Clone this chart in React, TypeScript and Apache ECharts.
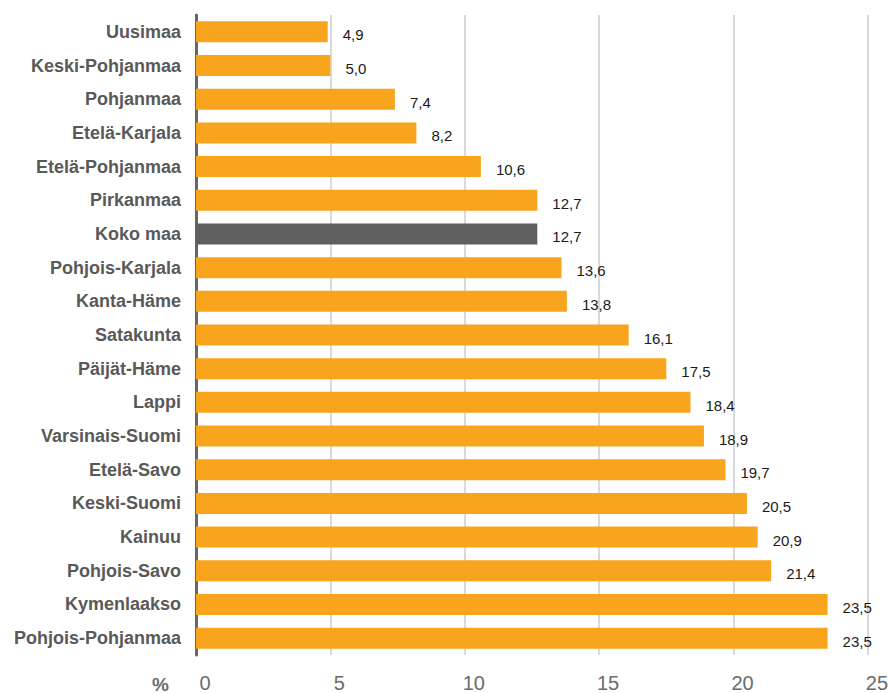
import React, { useEffect, useRef } from "react";
import * as echarts from "echarts";

const categories = [
  "Uusimaa",
  "Keski-Pohjanmaa",
  "Pohjanmaa",
  "Etelä-Karjala",
  "Etelä-Pohjanmaa",
  "Pirkanmaa",
  "Koko maa",
  "Pohjois-Karjala",
  "Kanta-Häme",
  "Satakunta",
  "Päijät-Häme",
  "Lappi",
  "Varsinais-Suomi",
  "Etelä-Savo",
  "Keski-Suomi",
  "Kainuu",
  "Pohjois-Savo",
  "Kymenlaakso",
  "Pohjois-Pohjanmaa",
];

const values = [
  4.9, 5.0, 7.4, 8.2, 10.6, 12.7, 12.7, 13.6, 13.8, 16.1, 17.5, 18.4, 18.9,
  19.7, 20.5, 20.9, 21.4, 23.5, 23.5,
];

const highlightCategory = "Koko maa";
const axisUnit = "%";

const ORANGE = "#F8A51D";
const GREY = "#5f5f5f";

export default function App() {
  const ref = useRef<HTMLDivElement>(null);

  useEffect(() => {
    if (!ref.current) return;
    const chart = echarts.init(ref.current, undefined, { renderer: "svg" });
    chart.setOption({
      animation: false,
      backgroundColor: "#ffffff",
      textStyle: { fontFamily: "Liberation Sans, Arial, sans-serif" },
      grid: { left: 196, right: 22, top: 15, bottom: 36, containLabel: false },
      xAxis: {
        type: "value",
        min: 0,
        max: 25,
        interval: 5,
        axisLine: { show: false },
        axisTick: { show: false },
        splitLine: { show: true, lineStyle: { color: "#dadada", width: 2 } },
        axisLabel: {
          color: "#6b6b6b",
          fontSize: 20,
          margin: 18,
          padding: [0, 0, 0, 18],
          fontFamily: "Liberation Sans, Arial, sans-serif",
        },
      },
      yAxis: {
        type: "category",
        data: categories,
        inverse: true,
        axisLine: { show: true, lineStyle: { color: "#666666", width: 3 } },
        axisTick: { show: false },
        axisLabel: {
          color: "#595959",
          fontSize: 18,
          fontWeight: "bold",
          margin: 15,
          fontFamily: "Liberation Sans, Arial, sans-serif",
        },
      },
      graphic: [
        {
          type: "text",
          x: 152,
          y: 684,
          style: {
            text: axisUnit,
            fill: "#6b6b6b",
            fontSize: 19,
            lineHeight: 19,
            fontWeight: "bold",
            verticalAlign: "middle",
            align: "left",
            fontFamily: "Liberation Sans, Arial, sans-serif",
          },
        },
      ],
      series: [
        {
          type: "bar",
          barWidth: 21,
          data: values.map((v, i) => ({
            value: v,
            itemStyle: {
              color: categories[i] === highlightCategory ? GREY : ORANGE,
            },
          })),
          label: {
            show: true,
            position: "right",
            distance: 15,
            offset: [0, 3],
            color: "#1a1a1a",
            fontSize: 15,
            fontFamily: "Liberation Sans, Arial, sans-serif",
            formatter: (p: any) => p.value.toFixed(1).replace(".", ","),
          },
        },
      ],
    });
    return () => chart.dispose();
  }, []);

  return <div ref={ref} style={{ width: 891, height: 693, position: "absolute", left: 0, top: 0 }} />;
}
